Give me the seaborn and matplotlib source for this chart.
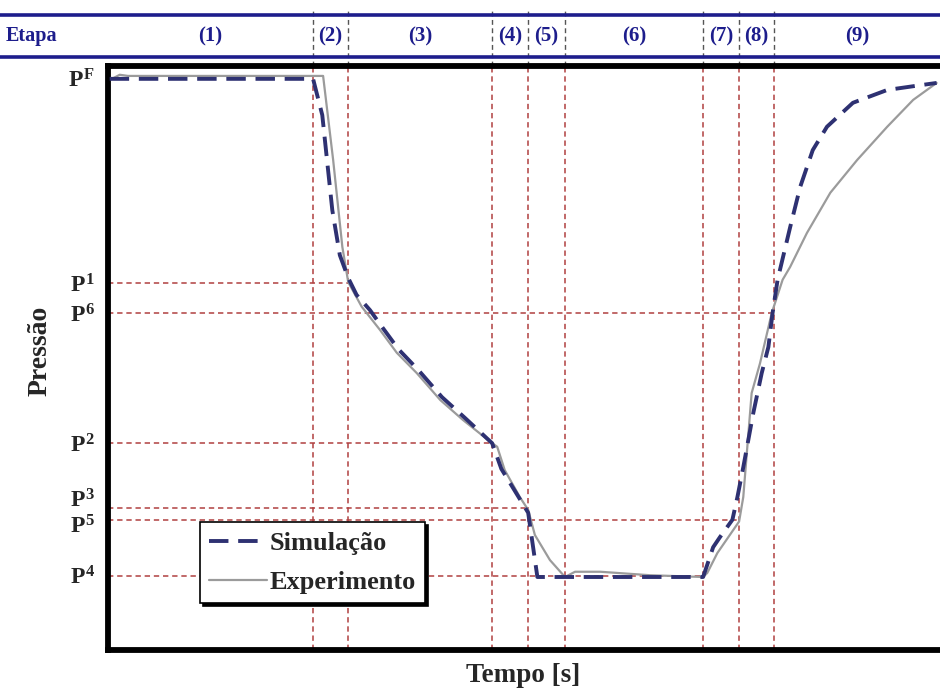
import matplotlib
matplotlib.use("Agg")
import matplotlib.pyplot as plt
from matplotlib.lines import Line2D
from matplotlib.transforms import ScaledTranslation
import seaborn as sns
import pandas as pd

# -----------------------------
# Data (time and pressure in arbitrary units)
# -----------------------------
stage_names = ["(1)", "(2)", "(3)", "(4)", "(5)", "(6)", "(7)", "(8)", "(9)"]
stage_bounds = [24.5, 28.7, 45.9, 50.2, 54.6, 71.1, 75.4, 79.6]

p_names = ["F", "1", "6", "2", "3", "5", "4"]
p_values = [97.8, 62.8, 57.7, 35.4, 24.3, 22.3, 12.7]
# where each reference dashed line stops (None = no line)
p_line_end = [None, 28.7, 79.6, 45.9, 50.2, 75.4, 71.1]

sim_t = [0.2, 24.5, 25.6, 26.8, 27.7, 28.7, 29.7, 31.3, 32.7, 34.7, 37.1,
         39.9, 42.6, 45.9, 47.0, 48.5, 50.2, 51.3, 71.1, 72.3, 73.1, 74.6,
         75.2, 75.9, 77.1, 78.1, 78.9, 79.4, 80.0, 81.5, 82.7, 84.2, 85.9,
         89.0, 93.1, 97.0, 99.0]
sim_p = [97.8, 97.8, 91.6, 75.3, 67.6, 63.7, 60.8, 58.2, 55.4, 51.5, 47.9,
         43.3, 39.8, 35.4, 31.0, 27.5, 23.5, 12.5, 12.5, 17.6, 19.3, 22.3,
         26.2, 31.3, 40.6, 47.4, 51.9, 57.7, 63.4, 72.4, 79.3, 85.6, 89.6,
         93.7, 95.9, 96.7, 97.1]

exp_t = [0.2, 1.4, 2.4, 25.7, 26.9, 28.0, 28.7, 30.3, 32.5, 34.5, 36.9,
         39.7, 42.4, 45.9, 46.5, 47.4, 49.2, 50.2, 51.0, 52.8, 54.6, 55.8,
         58.8, 64.8, 71.1, 71.6, 72.8, 75.4, 75.9, 76.9, 77.9, 79.3, 80.6,
         81.5, 83.5, 86.3, 89.5, 93.1, 96.2, 99.0]
exp_p = [97.6, 98.5, 98.3, 98.3, 83.9, 69.0, 63.0, 58.8, 54.8, 50.9, 47.4,
         42.8, 39.4, 35.4, 34.8, 30.8, 26.2, 24.0, 19.7, 15.4, 12.5, 13.4,
         13.4, 12.8, 12.5, 13.2, 16.6, 22.0, 26.2, 44.0, 49.1, 57.7, 63.4,
         65.6, 71.4, 78.3, 83.9, 89.6, 94.2, 97.1]

sim_df = pd.DataFrame({"t": sim_t, "p": sim_p})
exp_df = pd.DataFrame({"t": exp_t, "p": exp_p})

# -----------------------------
# Style
# -----------------------------
sns.set_style("white")
plt.rcParams["font.family"] = ["Liberation Serif", "DejaVu Serif"]
plt.rcParams["font.weight"] = "bold"
plt.rcParams["mathtext.fontset"] = "custom"
plt.rcParams["mathtext.rm"] = "Liberation Serif:bold"
plt.rcParams["mathtext.it"] = "Liberation Serif:bold"
plt.rcParams["mathtext.bf"] = "Liberation Serif:bold"

SIM_COLOR = "#2e3172"
EXP_COLOR = "#9b9b9b"
REF_COLOR = "#b04040"
HEAD_COLOR = "#1d1d8c"

W, H = 940, 691
fig = plt.figure(figsize=(9.4, 6.91), dpi=100)
ax = fig.add_axes([108 / W, (H - 650) / H, 837 / W, 584 / H])
ax.set_xlim(0, 100)
ax.set_ylim(0, 100)

# reference lines
for b in stage_bounds:
    ax.axvline(b, 0, 1, color=REF_COLOR, lw=1.1, dashes=(3.5, 2.5), zorder=1)
    ax.axvline(b, 1.0, 1.1, color="#555555", lw=1.0, dashes=(3.5, 2.5),
               clip_on=False, zorder=1)
for val, end in zip(p_values, p_line_end):
    if end is not None:
        ax.hlines(val, 0, end, color=REF_COLOR, lw=1.1, linestyles=(0, (3.5, 2.5)),
                  zorder=1)

# curves
sns.lineplot(data=sim_df, x="t", y="p", ax=ax, sort=False, estimator=None,
             color=SIM_COLOR, lw=2.8, label="Simulação", zorder=3)
ax.lines[-1].set_dashes((5, 2.5))
sns.lineplot(data=exp_df, x="t", y="p", ax=ax, sort=False, estimator=None,
             color=EXP_COLOR, lw=1.6, label="Experimento", zorder=2)

# axes cosmetics
ax.set_xticks([])
ax.set_yticks(p_values)
ax.set_yticklabels([f"$P^{{{n}}}$" for n in p_names])
ax.tick_params(axis="y", length=0, pad=9, labelsize=17)
# P3 and P5 sit very close: nudge their labels apart like the original
nudges = {"3": 7.0, "5": -3.5}
for lab, n in zip(ax.get_yticklabels(), p_names):
    if n in nudges:
        lab.set_transform(lab.get_transform()
                          + ScaledTranslation(0, nudges[n] / 72, fig.dpi_scale_trans))
ax.set_xlabel("")
ax.set_ylabel("")
for side in ["left", "top", "bottom"]:
    ax.spines[side].set_linewidth(4.2)
    ax.spines[side].set_color("black")
ax.spines["right"].set_visible(False)

fig.text(40 / W, 1 - 351 / H, "Pressão", rotation=90, ha="center", va="center",
         fontsize=20, fontweight="bold")
fig.text(523 / W, 1 - 675 / H, "Tempo [s]", ha="center", va="center",
         fontsize=19.5, fontweight="bold")

# header band with stage labels
for y_px in [15, 57]:
    fig.add_artist(Line2D([0, 1], [1 - y_px / H] * 2, color=HEAD_COLOR, lw=2.6))
fig.text(32 / W, 1 - 36 / H, "Etapa", ha="center", va="center",
         fontsize=14.5, fontweight="bold", color=HEAD_COLOR)
edges = [0] + stage_bounds + [ax.get_xlim()[1] * 0.994]
for name, a, b in zip(stage_names, edges[:-1], edges[1:]):
    ax.text((a + b) / 2, 1.051, name, transform=ax.get_xaxis_transform(),
            ha="center", va="center", fontsize=15, fontweight="bold",
            color=HEAD_COLOR, clip_on=False)

leg = ax.legend(loc="lower left", bbox_to_anchor=(0.11, 0.08), borderaxespad=0,
                frameon=True, fancybox=False, shadow={"color": "black", "alpha": 1},
                edgecolor="black", framealpha=1, fontsize=19, handlelength=2.2,
                handletextpad=0.1, borderpad=0.35, labelspacing=0.6)
leg.get_frame().set_linewidth(1.2)
leg.set_zorder(5)

fig.savefig("out.png", dpi=100, facecolor="white")
